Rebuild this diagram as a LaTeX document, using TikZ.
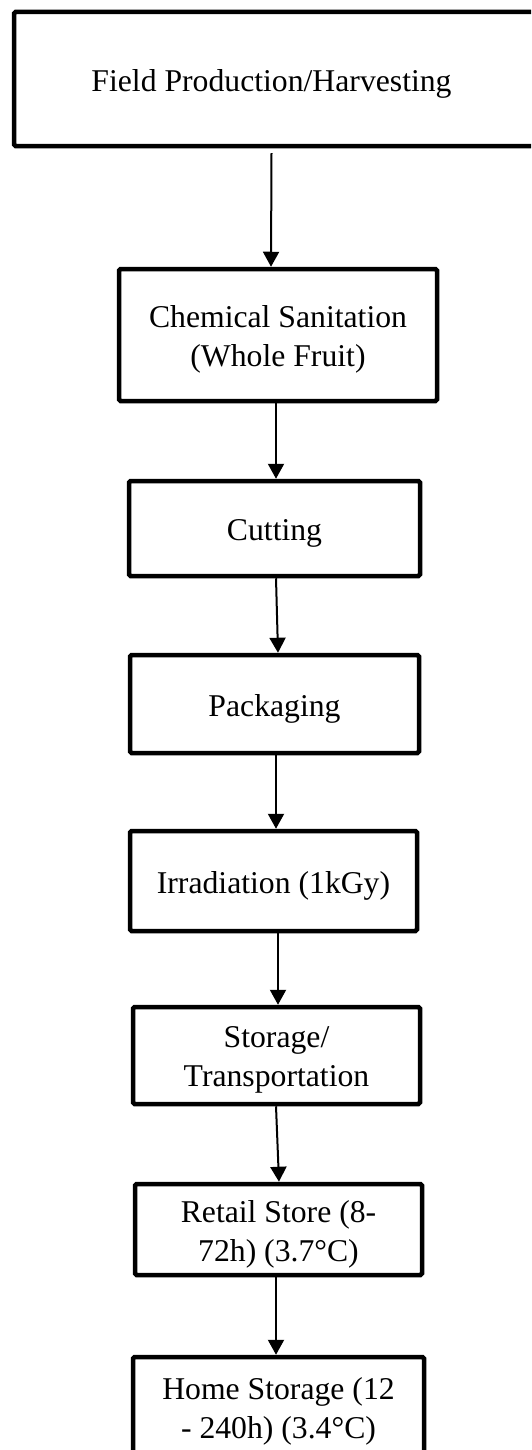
\documentclass[tikz,border=0pt]{standalone}
\usepackage{fontspec}
\setmainfont{Liberation Serif}
\usetikzlibrary{arrows.meta}
\begin{document}
\begin{tikzpicture}[x=0.5pt,y=-0.5pt,
  stepbox/.style={draw, line width=2.25pt, rectangle, rounded corners=0.8pt, inner sep=0pt},
  lbl/.style={inner sep=0pt, align=center, font=\fontsize{15.85pt}{19.4pt}\selectfont},
  txt/.style={label={[lbl, yshift=-2.3pt]center:#1}},
  arr/.style={-{Triangle[length=7.5pt,width=8pt]}, line width=1pt}]
\useasboundingbox (0,0) rectangle (531,1450);
\clip (0,0) rectangle (531,1450);
\fill[white] (0,0) rectangle (531,1450);
\node[stepbox, minimum width=303pt, minimum height=67pt] (field) at (317,79) {};
\node[lbl, yshift=-2.3pt] (fieldtxt) at (271.5,79) {Field Production/Harvesting};
\node[stepbox, minimum width=159pt, minimum height=66pt, txt={Chemical Sanitation\\(Whole Fruit)}] (chem) at (278,335) {};
\node[stepbox, minimum width=145.5pt, minimum height=47.5pt, txt={Cutting}] (cut) at (274.5,528.5) {};
\node[stepbox, minimum width=144.5pt, minimum height=49pt, txt={Packaging}] (pack) at (274.5,704) {};
\node[stepbox, minimum width=143.5pt, minimum height=50pt, txt={Irradiation (1kGy)}] (irr) at (273.5,881) {};
\node[stepbox, minimum width=143.5pt, minimum height=48.5pt, txt={Storage/\\Transportation}] (stor) at (276.5,1055.5) {};
\node[stepbox, minimum width=143.5pt, minimum height=45.5pt, txt={Retail Store (8-\\72h) (3.7°C)}] (retail) at (278.5,1229.5) {};
\node[stepbox, minimum width=145.5pt, minimum height=49.5pt, txt={Home Storage (12\\- 240h) (3.4°C)}] (home) at (278.5,1406.5) {};
\draw[arr] ([yshift=-2.4pt]field.south -| fieldtxt.south) -- ([xshift=-3.5pt]chem.north);
\draw[arr] ([xshift=-1pt]chem.south) -- ([xshift=0.75pt]cut.north);
\draw[arr] ([xshift=0.75pt]cut.south) -- ([xshift=1.75pt]pack.north);
\draw[arr] ([xshift=0.75pt]pack.south) -- ([xshift=1.25pt]irr.north);
\draw[arr] ([xshift=2.25pt]irr.south) -- ([xshift=0.75pt]stor.north);
\draw[arr] ([xshift=-0.25pt]stor.south) -- ([xshift=0.25pt]retail.north);
\draw[arr] ([xshift=-1.25pt]retail.south) -- ([xshift=-1.25pt]home.north);
\end{tikzpicture}
\end{document}
